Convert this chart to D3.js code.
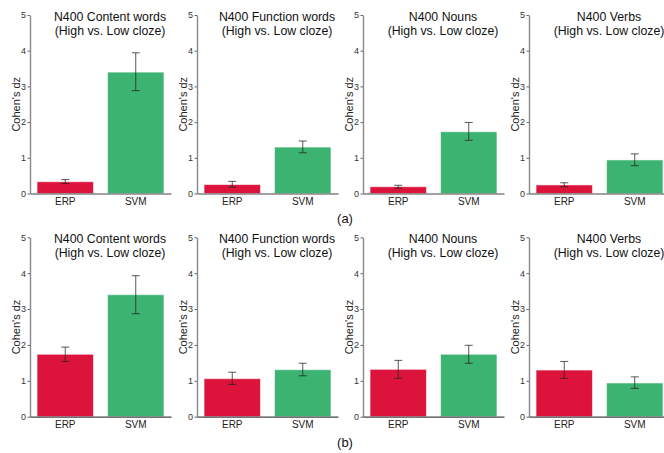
<!DOCTYPE html>
<html>
<head>
<meta charset="utf-8">
<script src="https://cdn.jsdelivr.net/npm/d3@7"></script>
<style>
  html, body { margin: 0; padding: 0; background: #fff; }
  svg { display: block; }
  text { font-family: "Liberation Sans", Arial, sans-serif; }
</style>
</head>
<body>
<svg id="chart" width="664" height="453"></svg>
<script>
const categories = ["ERP", "SVM"];
const panelTitles = ["N400 Content words", "N400 Function words", "N400 Nouns", "N400 Verbs"];
const subtitle = "(High vs. Low cloze)";
const rowLabels = ["(a)", "(b)"];
const yTicks = [0, 1, 2, 3, 4, 5];
const yLabel = "Cohen's dz";

// Row (a)
const erpA   = [0.33, 0.25, 0.19, 0.24];
const erpALo = [0.28, 0.18, 0.15, 0.19];
const erpAHi = [0.39, 0.34, 0.23, 0.30];
const svmA   = [3.40, 1.30, 1.73, 0.94];
const svmALo = [2.88, 1.14, 1.49, 0.78];
const svmAHi = [3.94, 1.47, 1.99, 1.11];

// Row (b)
const erpB   = [1.74, 1.06, 1.32, 1.30];
const erpBLo = [1.54, 0.90, 1.07, 1.07];
const erpBHi = [1.94, 1.24, 1.57, 1.54];
const svmB   = [3.40, 1.31, 1.74, 0.94];
const svmBLo = [2.87, 1.14, 1.49, 0.79];
const svmBHi = [3.93, 1.49, 1.99, 1.11];

const colors = {ERP: "#DC143C", SVM: "#3CB371"};

const rows = [
  {erp: erpA, erpLo: erpALo, erpHi: erpAHi, svm: svmA, svmLo: svmALo, svmHi: svmAHi, top: 15, bottom: 193.5, labelY: 223},
  {erp: erpB, erpLo: erpBLo, erpHi: erpBHi, svm: svmB, svmLo: svmBLo, svmHi: svmBHi, top: 237.3, bottom: 416.7, labelY: 447}
];
const panelX = [30, 197, 363, 529];
const panelW = 141;

const svg = d3.select("#chart");

rows.forEach((row, ri) => {
  const y = d3.scaleLinear().domain([0, 5]).range([row.bottom, row.top]);
  panelX.forEach((px, pi) => {
    const x = d3.scaleBand().domain(categories).range([px, px + panelW])
      .paddingInner(0.2).paddingOuter(0.1);
    const g = svg.append("g");
    const data = [
      {cat: "ERP", v: row.erp[pi], lo: row.erpLo[pi], hi: row.erpHi[pi]},
      {cat: "SVM", v: row.svm[pi], lo: row.svmLo[pi], hi: row.svmHi[pi]}
    ];
    // bars
    g.selectAll("rect.bar").data(data).enter().append("rect")
      .attr("x", d => x(d.cat))
      .attr("y", d => y(d.v))
      .attr("width", x.bandwidth())
      .attr("height", d => y(0) - y(d.v))
      .attr("fill", d => colors[d.cat])
      .attr("stroke", "#ffffff")
      .attr("stroke-opacity", 0.55)
      .attr("stroke-width", 1);
    // error bars
    const eb = g.selectAll("g.err").data(data).enter().append("g")
      .attr("stroke", "#222").attr("stroke-opacity", 0.75).attr("stroke-width", 1);
    eb.append("line")
      .attr("x1", d => x(d.cat) + x.bandwidth() / 2)
      .attr("x2", d => x(d.cat) + x.bandwidth() / 2)
      .attr("y1", d => y(d.lo)).attr("y2", d => y(d.hi));
    ["lo", "hi"].forEach(k => {
      eb.append("line")
        .attr("x1", d => x(d.cat) + x.bandwidth() / 2 - 4)
        .attr("x2", d => x(d.cat) + x.bandwidth() / 2 + 4)
        .attr("y1", d => y(d[k])).attr("y2", d => y(d[k]));
    });
    // y axis
    const yAxis = d3.axisLeft(y).tickValues(yTicks).tickFormat(d3.format("d"))
      .tickSizeInner(2.5).tickSizeOuter(0).tickPadding(1.5);
    const ya = g.append("g").attr("transform", `translate(${px},0)`).call(yAxis);
    ya.select(".domain").attr("stroke", "#888").attr("stroke-width", 1.4);
    ya.selectAll(".tick line").attr("stroke", "#666");
    ya.selectAll(".tick text").attr("font-size", 9).attr("fill", "#333")
      .attr("font-family", "DejaVu Sans, sans-serif");
    // x axis
    const xAxis = d3.axisBottom(x).tickSize(0).tickPadding(4);
    const xa = g.append("g").attr("transform", `translate(0,${row.bottom})`).call(xAxis);
    xa.select(".domain").attr("stroke", "#444").attr("stroke-width", 1.2);
    xa.selectAll(".tick text").attr("font-size", 10).attr("fill", "#222")
      .attr("font-family", "DejaVu Sans, sans-serif");
    // y label
    g.append("text")
      .attr("transform", `translate(${px - 10},${(row.top + row.bottom) / 2}) rotate(-90)`)
      .attr("text-anchor", "middle")
      .attr("font-size", 11).attr("fill", "#222")
      .text(yLabel);
    // title
    const tx = px + 80;
    g.append("text").attr("x", tx).attr("y", row.top + 5.5)
      .attr("text-anchor", "middle").attr("font-size", 12.3).attr("fill", "#111")
      .text(panelTitles[pi]);
    g.append("text").attr("x", tx).attr("y", row.top + 19.5)
      .attr("text-anchor", "middle").attr("font-size", 12.3).attr("fill", "#111")
      .text(subtitle);
  });
  svg.append("text").attr("x", 345).attr("y", row.labelY)
    .attr("text-anchor", "middle").attr("font-size", 13).attr("fill", "#111")
    .text(rowLabels[ri]);
});
</script>
</body>
</html>
